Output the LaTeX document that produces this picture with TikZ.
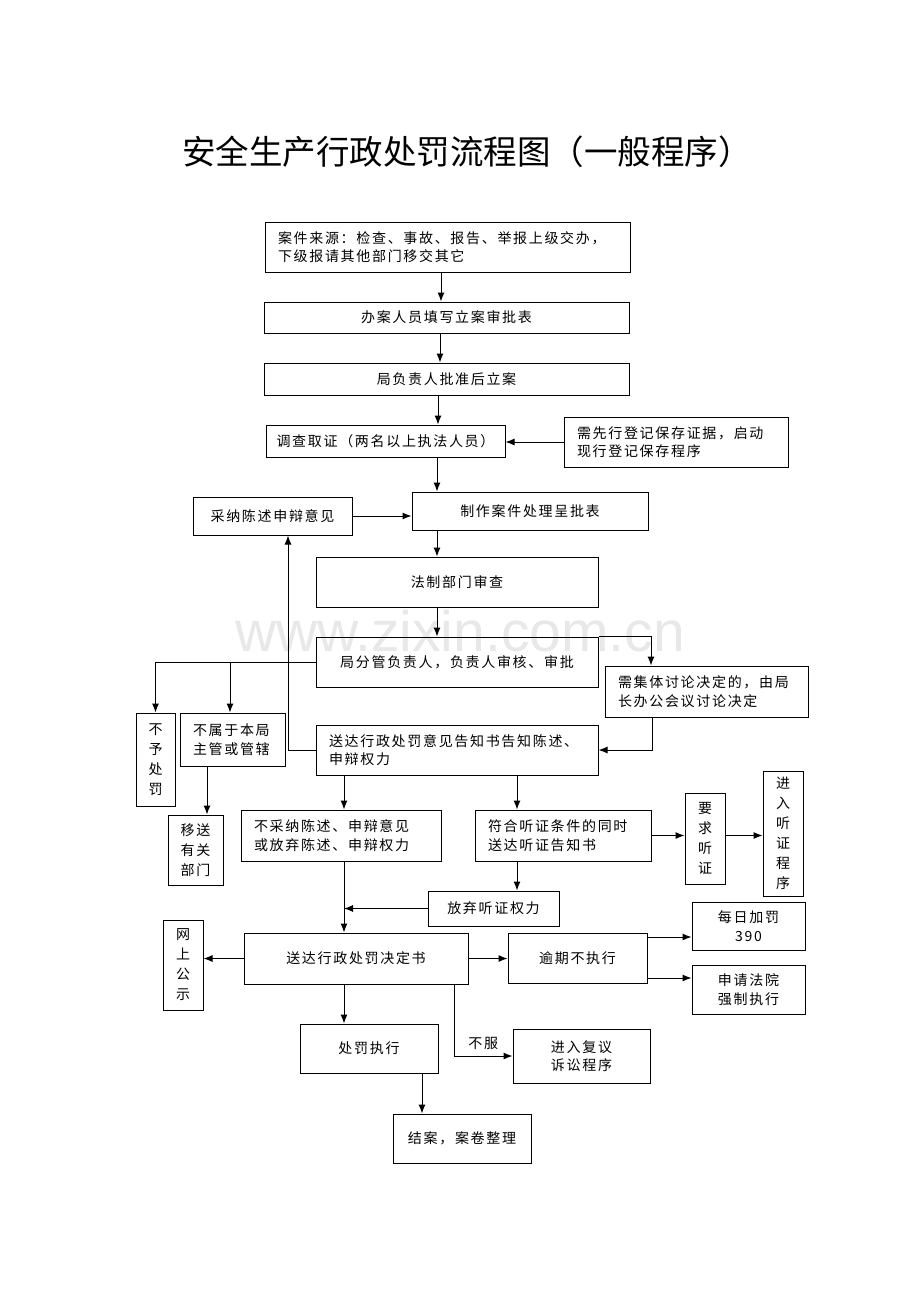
\documentclass[tikz,border=0pt]{standalone}
\usepackage{fontspec}
\newfontfamily\cjk[LetterSpace=12]{Noto Sans CJK SC}
\newfontfamily\cjktitle{Noto Sans CJK SC}
\usetikzlibrary{arrows.meta}
\tikzset{
  box/.style 2 args={draw, line width=1pt, inner sep=0pt, minimum width=#1, minimum height=#2, align=center, font=\cjk\fontsize{14}{18.5}\selectfont},
  lbox/.style 2 args={draw, line width=1pt, inner xsep=13pt, inner ysep=0pt, text width=#1, minimum height=#2, align=left, font=\cjk\fontsize{14}{18.5}\selectfont},
  vbox/.style 2 args={box={#1}{#2}, font=\cjk\fontsize{14}{20}\selectfont},
  arr/.style={line width=1pt, -{Latex[length=9pt,width=7pt]}},
}
\begin{document}
\begin{tikzpicture}[x = 1pt, y = -1pt]
	\useasboundingbox (0,0) rectangle (920,1302);
	\node[text=black!9, font=\fontspec{Liberation Sans}\fontsize{57}{57}\selectfont] (mark) at (460,631) {www.zixin.com.cn}; %watermark
	\node (title) at (467,152) {\cjktitle\fontsize{33.5}{34}\selectfont 安全生产行政处罚流程图（一般程序）};
	% main column
	\node[lbox={339}{50}] (src) at (447.5,247) {案件来源：检查、事故、报告、举报上级交办，\\下级报请其他部门移交其它};
	\node[box={365}{31}] (fill) at (446.5,317.5) {办案人员填写立案审批表};
	\node[box={365}{32}] (appr) at (446.5,379) {局负责人批准后立案};
	\node[box={239}{32}] (inv) at (385.5,441) {调查取证（两名以上执法人员）};
	\node[lbox={198}{50}] (pres) at (676,442) {需先行登记保存证据，启动\\现行登记保存程序};
	\node[box={159}{38}] (adopt) at (272.5,516) {采纳陈述申辩意见};
	\node[box={236}{38}] (make) at (530,511) {制作案件处理呈批表};
	\node[box={282}{50}] (legal) at (457,582) {法制部门审查};
	\node[box={282}{50}] (lead) at (457,662) {局分管负责人，负责人审核、审批};
	\node[lbox={177}{51}] (coll) at (706.5,691.5) {需集体讨论决定的，由局\\长办公会议讨论决定};
	\node[lbox={256}{50}] (notice) at (457,750) {送达行政处罚意见告知书告知陈述、\\申辩权力};
	% left branch
	\node[vbox={39}{93}] (nopen) at (155.5,759.5) {不\\予\\处\\罚};
	\node[lbox={79}{53}] (notour) at (232.5,739.5) {不属于本局\\主管或管辖};
	\node[box={55}{70}, font=\cjk\fontsize{14}{20}\selectfont] (transfer) at (195.5,850) {移送\\有关\\部门};
	% hearing
	\node[lbox={174}{51}] (reject) at (341,835.5) {不采纳陈述、申辩意见\\或放弃陈述、申辩权力};
	\node[lbox={150}{51}] (hear) at (563,835.5) {符合听证条件的同时\\送达听证告知书};
	\node[vbox={40}{91}] (req) at (705,838.5) {要\\求\\听\\证};
	\node[vbox={40}{125}] (hproc) at (783,833.5) {进\\入\\听\\证\\程\\序};
	\node[box={131}{35}] (waive) at (493.5,908.5) {放弃听证权力};
	% decision
	\node[box={224}{51}] (decis) at (356,958.5) {送达行政处罚决定书};
	\node[vbox={40}{90}] (online) at (183,965) {网\\上\\公\\示};
	\node[box={139}{50}] (overdue) at (577.5,958) {逾期不执行};
	\node[box={113}{48}] (daily) at (748.5,926) {每日加罚\\390};
	\node[box={113}{49}] (court) at (748.5,989.5) {申请法院\\强制执行};
	\node[box={138}{49}] (exec) at (369,1048.5) {处罚执行};
	\node[box={137}{54}] (review) at (581.5,1056) {进入复议\\诉讼程序};
	\node[box={138}{49}] (close) at (462,1138.5) {结案，案卷整理};
	% connectors
	\draw[arr] ([xshift=-6.5pt]src.south) -- ([xshift=-6.5pt]src.south |- fill.north);
	\draw[arr] ([xshift=-6.5pt]fill.south) -- ([xshift=-6.5pt]fill.south |- appr.north);
	\draw[arr] ([xshift=-8.5pt]appr.south) -- ([xshift=-8.5pt]appr.south |- inv.north);
	\draw[arr] (pres.west) -- (pres.west -| inv.east);
	\draw[arr] ([xshift=51.5pt]inv.south) -- ([xshift=51.5pt]inv.south |- make.north);
	\draw[arr] (adopt.east) -- (adopt.east -| make.west);
	\draw[arr] ([xshift=-93pt]make.south) -- ([xshift=-93pt]make.south |- legal.north);
	\draw[arr] ([xshift=-20pt]legal.south) -- ([xshift=-20pt]legal.south |- lead.north);
	\draw[arr] (lead.north east) -| ([xshift=-55.5pt]coll.north);
	\draw[arr] ([xshift=-54.5pt]coll.south) |- (notice.east);
	\draw[arr] (lead.west) -| (nopen.north);
	\draw[arr] ([xshift=-2.5pt]notour.north |- lead.west) -- ([xshift=-2.5pt]notour.north);
	\draw[arr] (notice.west) -| ([xshift=15.5pt]adopt.south);
	\draw[arr] ([xshift=-25.5pt]notour.south) -- ([xshift=-25.5pt]notour.south |- transfer.north);
	\draw[arr] ([xshift=-113pt]notice.south) -- ([xshift=-113pt]notice.south |- reject.north);
	\draw[arr] ([xshift=60pt]notice.south) -- ([xshift=60pt]notice.south |- hear.north);
	\draw[arr] (hear.east) -- (hear.east -| req.west);
	\draw[arr] (hear.east -| req.east) -- (hear.east -| hproc.west);
	\draw[arr] ([xshift=-46pt]hear.south) -- ([xshift=-46pt]hear.south |- waive.north);
	\draw[arr] (waive.west) -- ([xshift=3pt]reject.south |- waive.west);
	\draw[arr] ([xshift=3pt]reject.south) -- ([xshift=3pt]reject.south |- decis.north);
	\draw[arr] (decis.west) -- (decis.west -| online.east);
	\draw[arr] (decis.east) -- (decis.east -| overdue.west);
	\draw[arr] ([yshift=21pt]overdue.east) -- ([yshift=21pt]overdue.east -| daily.west);
	\draw[arr] ([yshift=-20pt]overdue.east) -- ([yshift=-20pt]overdue.east -| court.west);
	\draw[arr] ([xshift=-12pt]decis.south) -- ([xshift=-12pt]decis.south |- exec.north);
	\draw[arr] ([xshift=98pt]decis.south) |- (review.west) node[pos=.75, above=3pt, font=\cjk\fontsize{14}{14}\selectfont] (refuse) {不服};
	\draw[arr] ([xshift=53pt]exec.south) -- ([xshift=53pt]exec.south |- close.north);
\end{tikzpicture}
\end{document}
